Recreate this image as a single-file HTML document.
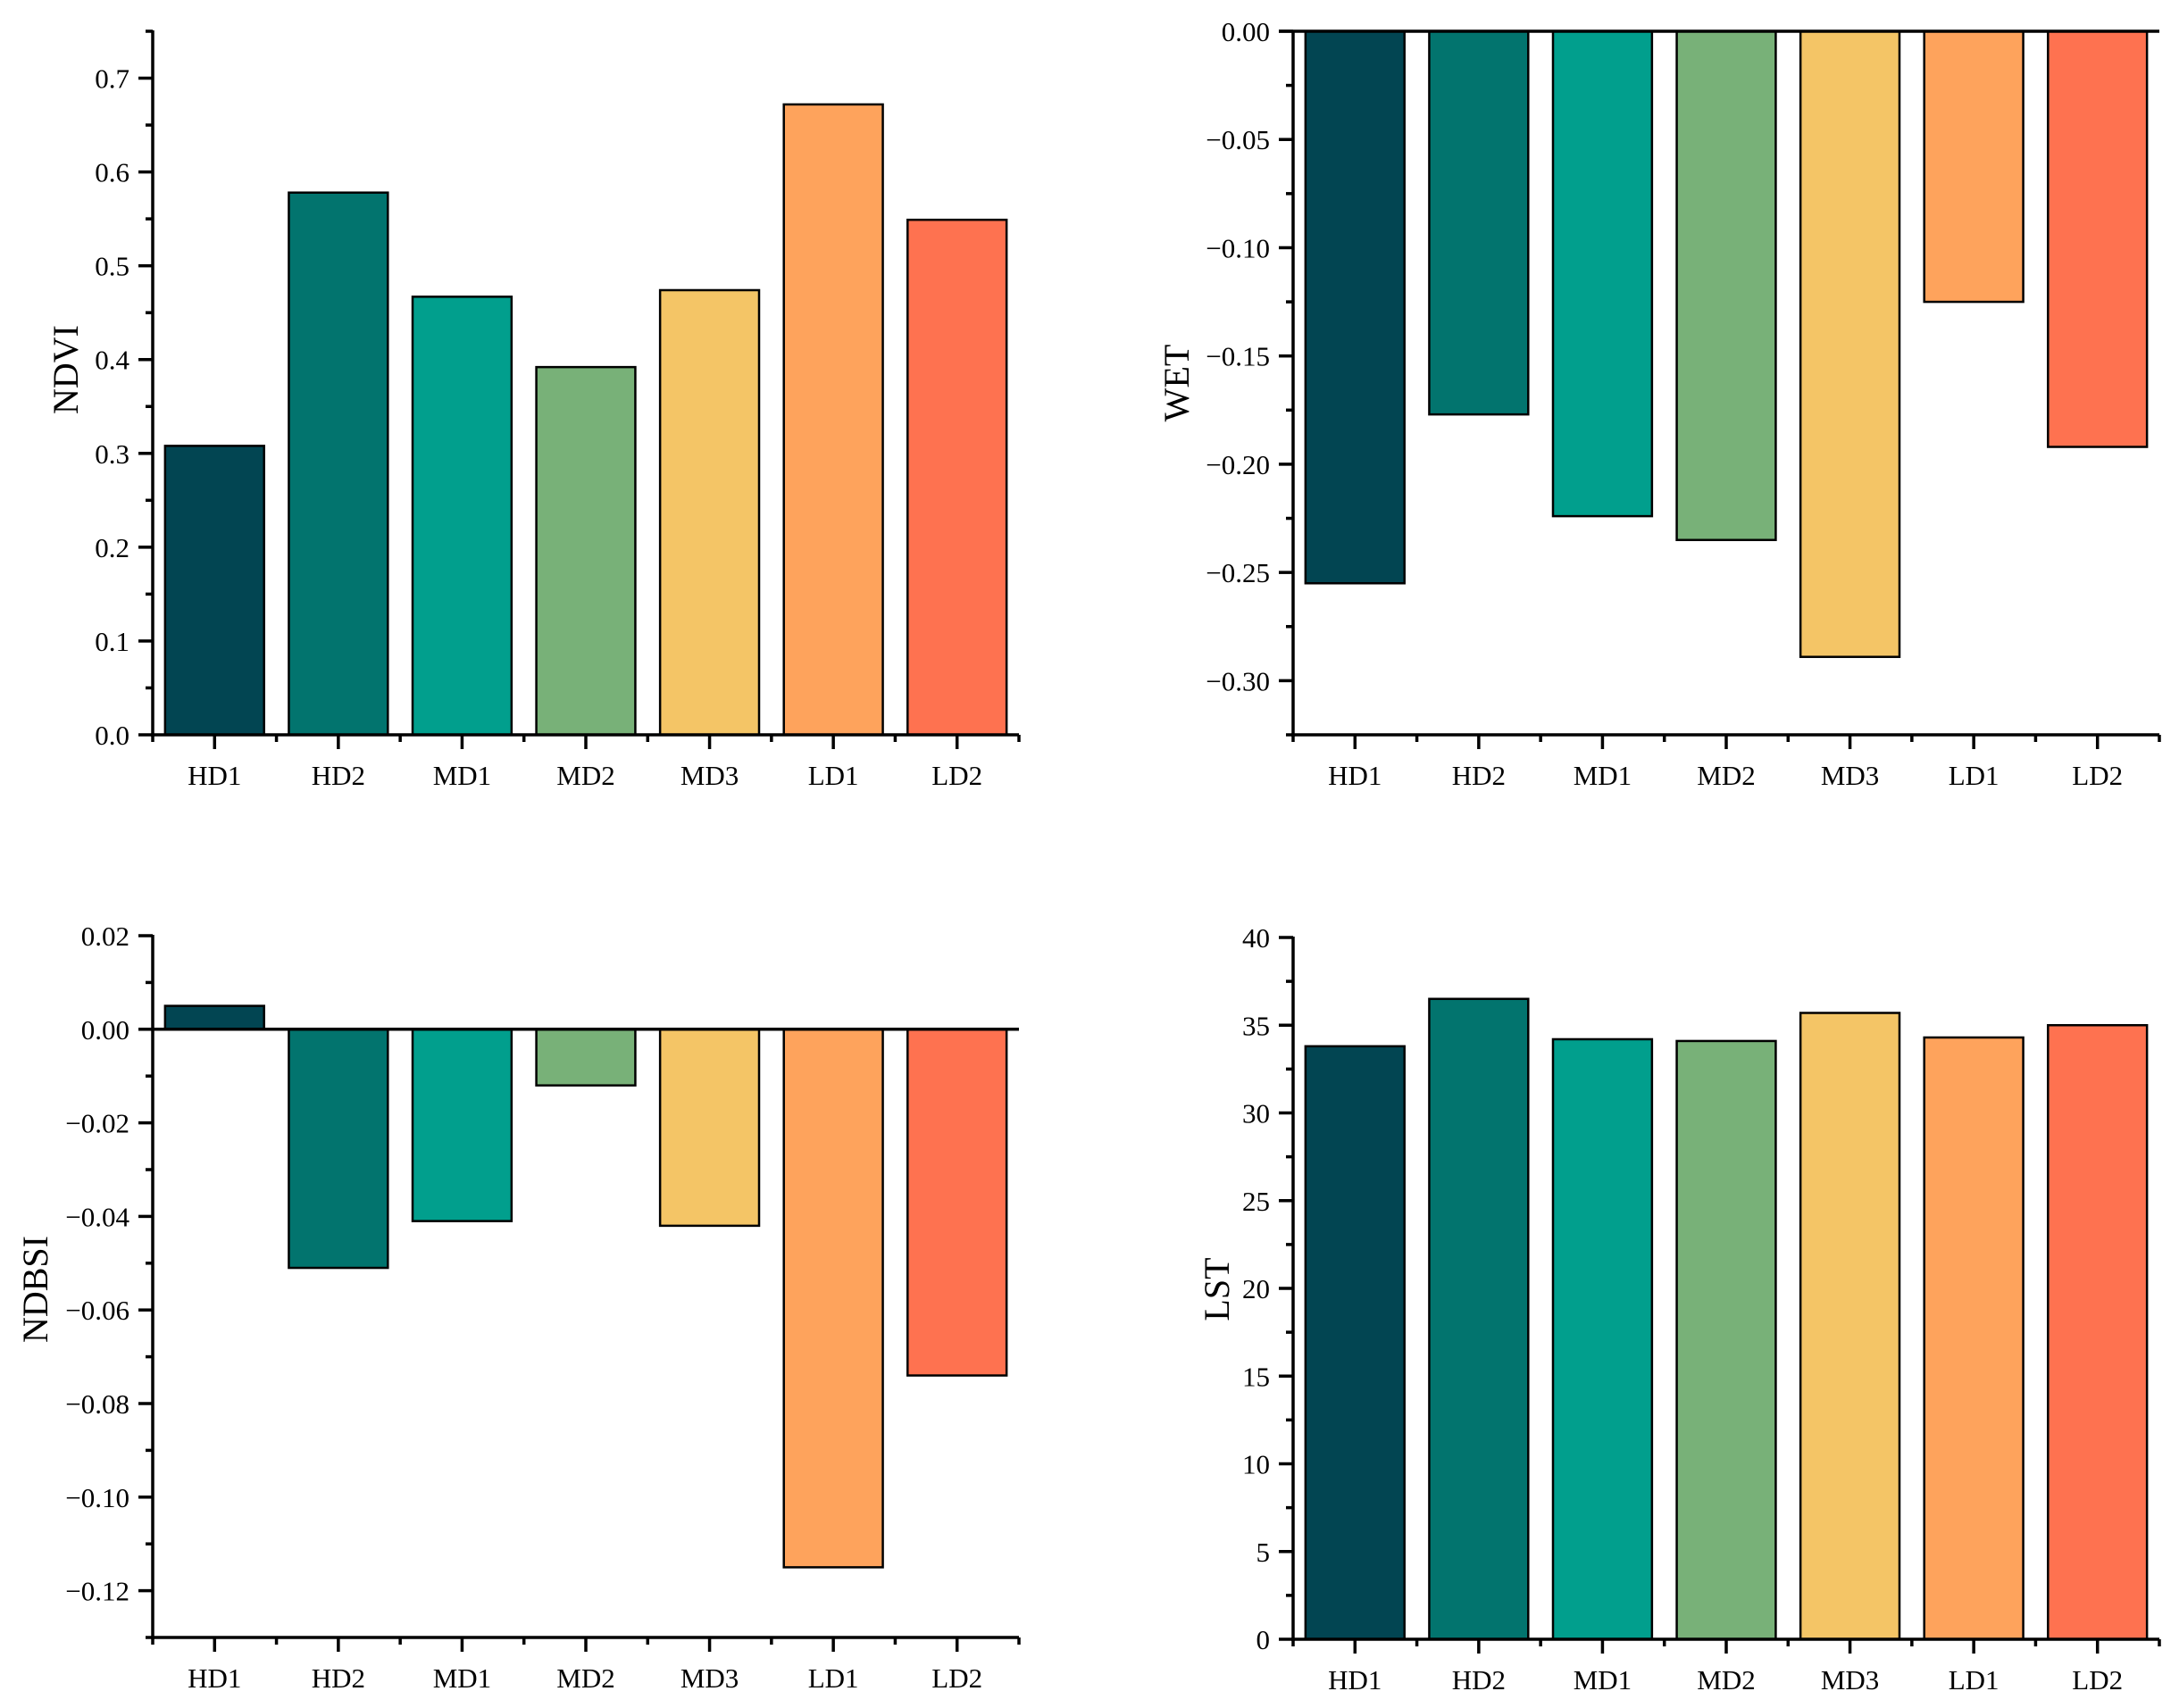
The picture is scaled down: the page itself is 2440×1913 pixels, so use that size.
<!DOCTYPE html>
<html><head><meta charset="utf-8"><style>
html,body{margin:0;padding:0;background:#fff;}
svg{display:block;}
text{font-family:"Liberation Serif",serif;fill:#000;}
</style></head><body>
<svg id="chart" width="2440" height="1913" viewBox="0 0 2440 1913" xmlns="http://www.w3.org/2000/svg"></svg>
<script>
const categories = ["HD1","HD2","MD1","MD2","MD3","LD1","LD2"];
const colors = ["#024552","#02746E","#019F8D","#78B178","#F4C566","#FEA35C","#FE7250"];
const ndviValues = [0.308,0.578,0.467,0.392,0.474,0.672,0.549];
const wetValues = [-0.255,-0.177,-0.224,-0.235,-0.289,-0.125,-0.192];
const ndbsiValues = [0.005,-0.051,-0.041,-0.012,-0.042,-0.115,-0.074];
const lstValues = [33.8,36.5,34.2,34.1,35.7,34.3,35.0];
const ndviTicks = [0.0,0.1,0.2,0.3,0.4,0.5,0.6,0.7];
const ndviTickLabels = ["0.0","0.1","0.2","0.3","0.4","0.5","0.6","0.7"];
const wetTicks = [0,-0.05,-0.10,-0.15,-0.20,-0.25,-0.30];
const wetTickLabels = ["0.00","\u22120.05","\u22120.10","\u22120.15","\u22120.20","\u22120.25","\u22120.30"];
const ndbsiTicks = [0.02,0,-0.02,-0.04,-0.06,-0.08,-0.10,-0.12];
const ndbsiTickLabels = ["0.02","0.00","\u22120.02","\u22120.04","\u22120.06","\u22120.08","\u22120.10","\u22120.12"];
const lstTicks = [0,5,10,15,20,25,30,35,40];
const lstTickLabels = ["0","5","10","15","20","25","30","35","40"];

const NS = "http://www.w3.org/2000/svg";
const svg = document.getElementById("chart");
function mk(tag, attrs, parent){
  const e = document.createElementNS(NS, tag);
  for (const k in attrs) e.setAttribute(k, attrs[k]);
  (parent||svg).appendChild(e);
  return e;
}
function panel(o){
  const g = mk("g", {});
  
  
  const x0=o.x0, x1=o.x1, yT=o.yT, yB=o.yB;
  const y = v => yB - (v - o.min) / (o.max - o.min) * (yB - yT);
  const band = (x1 - x0) / categories.length;
  o.values.forEach((v,i)=>{
    const cx = x0 + (i+0.5)*band, w = band*0.8;
    const ya = y(v), yz = y(0);
    const r = mk("rect", {x:cx-w/2, y:Math.min(ya,yz), width:w, height:Math.abs(ya-yz), fill:colors[i], stroke:"#000", "stroke-width":2.5}, g);
    
    
  });
  const ya = mk("line", {x1:x0, y1:yT-1, x2:x0, y2:yB+2, stroke:"#000", "stroke-width":3.5}, g);
  
  
  o.ticks.forEach((t,i)=>{
    const ty = y(t);
    mk("line", {x1:x0-16, y1:ty, x2:x0, y2:ty, stroke:"#000", "stroke-width":3.5}, g);
    if (i < o.ticks.length-1) {
      const my = (ty + y(o.ticks[i+1]))/2;
      if (my >= yT-1 && my <= yB+1) mk("line", {x1:x0-8, y1:my, x2:x0, y2:my, stroke:"#000", "stroke-width":3.5}, g);
    }
    const tl = mk("text", {x:x0-26, y:ty+11, "font-size":31, "text-anchor":"end"}, g);
    tl.textContent = o.labels[i];
    
    
  });
  if (o.extraMinor) o.extraMinor.forEach(v=>{ mk("line", {x1:x0-8, y1:y(v), x2:x0, y2:y(v), stroke:"#000", "stroke-width":3.5}, g); });
  if (o.min < 0) {
    const zl = mk("line", {x1:x0-16, y1:y(0), x2:x1, y2:y(0), stroke:"#000", "stroke-width":3.5}, g);
    
    
  }
  const xa = mk("line", {x1:x0-2, y1:yB, x2:x1, y2:yB, stroke:"#000", "stroke-width":3.5}, g);
  
  
  for (let i=0;i<=categories.length;i++){
    const bx = x0 + i*band;
    mk("line", {x1:bx, y1:yB, x2:bx, y2:yB+8, stroke:"#000", "stroke-width":3.5}, g);
  }
  categories.forEach((c,i)=>{
    const cx = x0 + (i+0.5)*band;
    mk("line", {x1:cx, y1:yB, x2:cx, y2:yB+16, stroke:"#000", "stroke-width":3.5}, g);
    const t = mk("text", {x:cx, y:yB+56, "font-size":31, "text-anchor":"middle"}, g);
    t.textContent = c;
    
    
  });
  const at = mk("text", {x:0, y:0, "font-size":40, "text-anchor":"middle", transform:"translate("+o.tx+","+o.ty+") rotate(-90)"}, g);
  at.textContent = o.title;
  
  
}
panel({name:"ndvi", values:ndviValues, ticks:ndviTicks, labels:ndviTickLabels, min:0, max:0.75, x0:171, x1:1141, yT:35, yB:823, title:"NDVI", tx:87, ty:414, extraMinor:[0.75]});
panel({name:"wet", values:wetValues, ticks:wetTicks, labels:wetTickLabels, min:-0.325, max:0, x0:1448, x1:2418, yT:35, yB:823, title:"WET", tx:1331, ty:429, extraMinor:[-0.325]});
panel({name:"ndbsi", values:ndbsiValues, ticks:ndbsiTicks, labels:ndbsiTickLabels, min:-0.13, max:0.02, x0:171, x1:1141, yT:1048, yB:1834, title:"NDBSI", tx:53, ty:1444, extraMinor:[-0.13]});
panel({name:"lst", values:lstValues, ticks:lstTicks, labels:lstTickLabels, min:0, max:40, x0:1448, x1:2418, yT:1050, yB:1836, title:"LST", tx:1376, ty:1444});
</script>
</body></html>
